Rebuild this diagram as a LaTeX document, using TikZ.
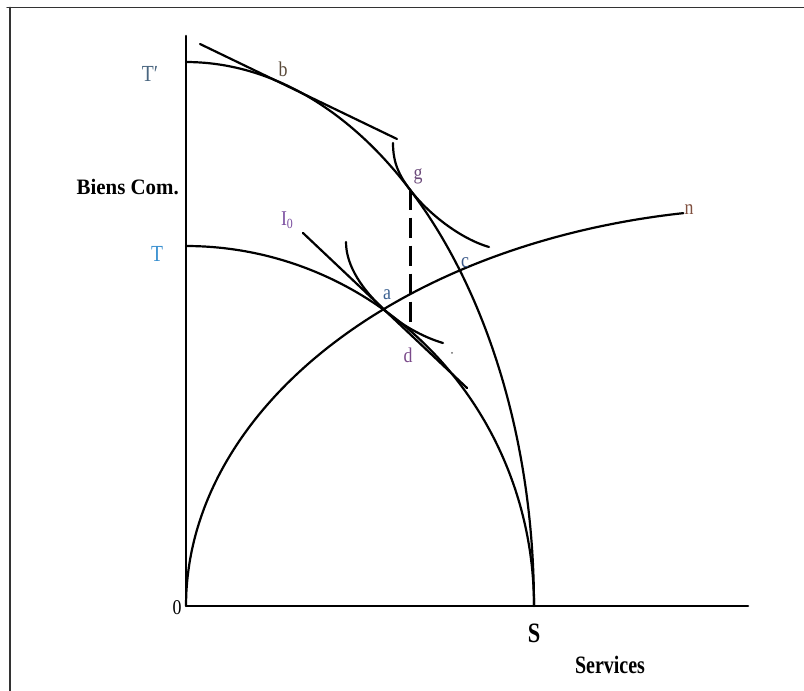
\documentclass[tikz,border=0pt]{standalone}
\usepackage{fontspec}
\setmainfont{Liberation Serif}
\newfontfamily\labfont{Liberation Serif}[FakeStretch=0.85]
\newfontfamily\axfont{Liberation Serif}[FakeStretch=0.8]
\newfontfamily\ylfont{Liberation Serif}[FakeStretch=0.95]
\definecolor{cTp}{HTML}{4A6680}
\definecolor{cT}{HTML}{3A90D0}
\definecolor{cI}{HTML}{7B4FA0}
\definecolor{cb}{HTML}{5A4A3A}
\definecolor{cg}{HTML}{6B4A7A}
\definecolor{ca}{HTML}{3A6090}
\definecolor{cc}{HTML}{3A5888}
\definecolor{cd}{HTML}{7A4A8A}
\definecolor{cn}{HTML}{805040}
\begin{document}
\begin{tikzpicture}[x=1pt,y=1pt,line cap=round,line join=round,
  curve/.style={line width=2.2pt,black},
  axisline/.style={line width=2.6pt,black},
  framel/.style={line width=1.5pt,black!80},
  lbl/.style={inner sep=0pt,font=\labfont\fontsize{21}{25}\selectfont},
  axlbl/.style={inner sep=0pt,font=\axfont\bfseries\fontsize{22}{26}\selectfont}]
\useasboundingbox (0,0) rectangle (804,691);
% frame
\coordinate (F1) at (7,683.5);
\coordinate (F2) at (804,683.5);
\coordinate (F3) at (10,683.5);
\coordinate (F4) at (10,0);
\draw[framel] (F1) -- (F2);
\draw[framel] (F3) -- (F4);
% axes
\coordinate (O) at (186,85);
\coordinate (Ytop) at (186,655);
\coordinate (Xend) at (748,85);
\draw[axisline] (Ytop) -- (O) -- (Xend);
% outer PPF T'S
\draw[curve] plot[domain=90:0,samples=120] ({186+348*cos(\x)},{85+544*sin(\x)});
% inner PPF TS
\draw[curve] plot[domain=90:0,samples=120] ({186+348*cos(\x)},{85+360*sin(\x)});
% curve 0n
\draw[curve] plot[domain=180:99.2,samples=120] ({778+592*cos(\x)},{85+398*sin(\x)});
% tangent at b
\coordinate (B1) at (200,647);
\coordinate (B2) at (397,552);
\draw[curve] (B1) -- (B2);
% line I0
\coordinate (L1) at (303,458);
\coordinate (L2) at (467,303);
\draw[curve] (L1) -- (L2);
% upper indifference curve
\coordinate (S1) at (393,548);
\coordinate (G) at (410,501.3);
\coordinate (E1) at (489,444);
\draw[curve] (S1) .. controls (393,528) and (399.1,515.6) .. (G)
  .. controls (428.2,477.4) and (460.2,452.4) .. (E1);
% lower indifference curve
\coordinate (S0) at (346,449);
\coordinate (A) at (382,383.3);
\coordinate (E0) at (443,348);
\draw[curve] (S0) .. controls (346,424) and (363.8,400.5) .. (A)
  .. controls (400.2,366.1) and (423.8,353.6) .. (E0);
% dashed g-d
\coordinate (D) at (410,362);
\draw[line width=3pt,line cap=butt,dash pattern=on 20pt off 8pt] (G) -- (D);
% stray dot
\fill[black!60] (452,338) circle (1);
% labels
\node[lbl,text=cTp,font=\labfont\fontsize{23}{27}\selectfont] (lTp) at (150,617) {T′};
\node[lbl,text=cT,font=\labfont\fontsize{23}{27}\selectfont] (lT) at (157,437) {T};
\node[lbl,text=cb] (lb) at (283,622) {b};
\node[lbl,text=cg] (lg) at (418,515) {g};
\node[lbl,text=cI] (lI) at (287,471) {I\raisebox{-0.35ex}{\fontsize{14}{16}\selectfont 0}};
\node[lbl,text=ca] (la) at (387,396) {a};
\node[lbl,text=cc] (lc) at (465,428) {c};
\node[lbl,text=cd] (ld) at (408,336) {d};
\node[lbl,text=cn] (ln) at (689,481) {n};
\node[lbl] (l0) at (177,83) {0};
\node[axlbl,font=\axfont\bfseries\fontsize{28}{32}\selectfont] (lS) at (534,58) {S};
\node[axlbl,font=\axfont\bfseries\fontsize{25}{30}\selectfont] (lServ) at (610,26) {Services};
\node[axlbl,anchor=east,font=\ylfont\bfseries\fontsize{22}{26}\selectfont] (lBiens) at (179,504) {Biens Com.};
\end{tikzpicture}
\end{document}
